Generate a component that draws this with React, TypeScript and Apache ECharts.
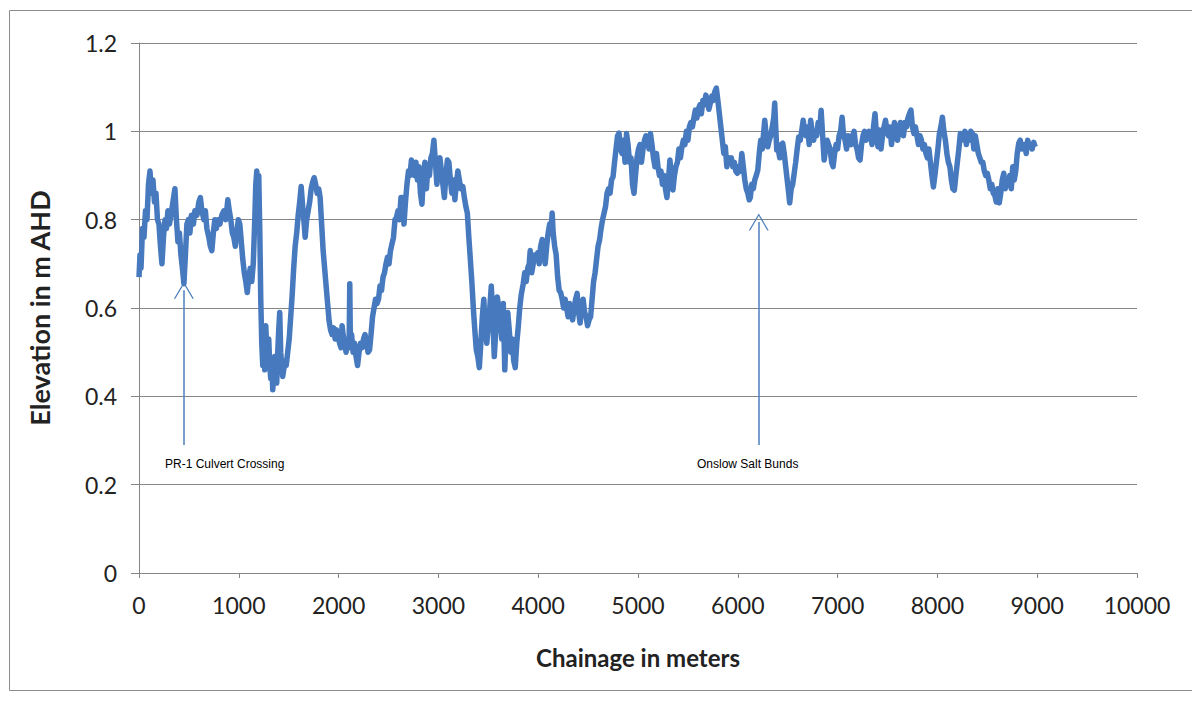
import React, { useEffect, useRef } from "react";
import * as echarts from "echarts";

// [chainage (m), elevation (m AHD)]
const section1: [number, number][] = [
  [0,0.67],[10,0.72],[20,0.69],[35,0.78],[50,0.76],[65,0.82],[80,0.80],[95,0.88],[110,0.91],[125,0.86],
  [140,0.89],[155,0.84],[170,0.86],[185,0.80],[200,0.79],[215,0.74],[230,0.70],[245,0.76],[260,0.80],[275,0.78],
  [290,0.82],[305,0.79],[320,0.81],[340,0.84],[360,0.87],[375,0.80],[390,0.75],[405,0.77],[420,0.72],[435,0.69],
  [450,0.655],[465,0.72],[480,0.79],[495,0.80],[510,0.77],[525,0.81],[545,0.79],[560,0.82],[580,0.81],[600,0.84],
  [615,0.85],[630,0.82],[650,0.80],[665,0.82],[680,0.78],[700,0.76],[715,0.74],[730,0.73],[745,0.77],[760,0.80],
  [775,0.78],[790,0.80],[810,0.79],[830,0.81],[850,0.82],[870,0.80],[890,0.845],[905,0.82],[920,0.80],[935,0.77],
  [950,0.76],[965,0.74],[980,0.77],[995,0.80],[1010,0.79],[1025,0.75],[1040,0.71],[1055,0.68],[1070,0.66],[1085,0.635],
  [1100,0.67],[1115,0.69],[1130,0.66],[1145,0.70],[1160,0.80],[1170,0.88],[1180,0.91],[1190,0.87],[1200,0.90],[1210,0.78],
  [1220,0.62],[1230,0.52],[1240,0.47],[1250,0.50],[1260,0.46],[1270,0.56],[1280,0.51],[1290,0.48],[1300,0.53],[1310,0.47],
  [1320,0.44],[1330,0.48],[1340,0.415],[1350,0.45],[1360,0.49],[1370,0.46],[1380,0.43],[1390,0.50],[1400,0.55],[1410,0.59],
  [1420,0.50],[1430,0.47],[1440,0.445],[1450,0.46],[1460,0.48],[1475,0.47],[1490,0.50],[1505,0.53],[1520,0.58],[1535,0.63],
  [1550,0.69],[1565,0.74],[1580,0.77],[1595,0.81],[1610,0.84],[1625,0.875],[1640,0.83],[1655,0.79],[1665,0.76],[1680,0.80],
  [1695,0.82],[1710,0.84],[1725,0.87],[1740,0.885],[1755,0.895],[1770,0.88],[1785,0.86],[1800,0.87],[1815,0.85],[1830,0.79],
  [1845,0.73],[1860,0.69],[1875,0.65],[1890,0.61],[1905,0.57],[1920,0.55],[1935,0.54],[1950,0.555],[1965,0.53],[1980,0.55],
  [1995,0.54],[2010,0.52],[2025,0.51],[2035,0.56],[2045,0.54],[2060,0.52],[2075,0.50],[2090,0.53],[2105,0.51],[2112,0.655],
  [2118,0.52],[2130,0.54],[2145,0.50],[2160,0.52],[2175,0.49],[2190,0.47],[2205,0.50],[2220,0.52],[2235,0.51],[2250,0.53],
  [2265,0.54],[2280,0.52],[2295,0.50],[2310,0.505],[2325,0.54],[2340,0.58],[2355,0.60],[2370,0.62],[2385,0.61],[2400,0.62],
  [2415,0.65],[2430,0.64],[2445,0.67],[2460,0.68],[2475,0.70],[2490,0.715],[2505,0.70],[2520,0.73],[2535,0.745],[2550,0.76],
  [2565,0.80],[2580,0.805],[2595,0.82],[2610,0.80],[2625,0.85],[2640,0.85],[2655,0.79],[2670,0.84],[2685,0.88],[2700,0.91],
  [2715,0.90],[2730,0.935],[2745,0.92],[2760,0.90],[2775,0.93],[2790,0.89],[2805,0.92],[2820,0.86],[2835,0.835],[2850,0.90],
  [2865,0.93],[2880,0.87],[2895,0.92],[2910,0.90],[2925,0.94],[2940,0.95],[2955,0.98],[2970,0.93],[2985,0.88],[3000,0.93],
];

const section2: [number, number][] = [
  [3015,0.94],[3030,0.91],[3045,0.88],[3060,0.85],[3075,0.90],[3090,0.935],[3105,0.93],[3120,0.89],[3135,0.86],[3150,0.89],
  [3165,0.845],[3180,0.88],[3195,0.91],[3210,0.89],[3225,0.87],[3245,0.875],[3260,0.85],[3275,0.83],[3290,0.815],[3305,0.76],
  [3320,0.71],[3335,0.66],[3350,0.60],[3365,0.55],[3380,0.505],[3395,0.49],[3410,0.465],[3425,0.52],[3440,0.58],[3455,0.62],
  [3470,0.55],[3485,0.52],[3500,0.56],[3515,0.60],[3530,0.65],[3545,0.58],[3560,0.49],[3575,0.55],[3590,0.625],[3605,0.60],
  [3620,0.57],[3635,0.53],[3650,0.61],[3665,0.46],[3680,0.55],[3695,0.59],[3710,0.55],[3725,0.50],[3740,0.53],[3755,0.48],
  [3770,0.465],[3785,0.52],[3800,0.557],[3815,0.60],[3830,0.63],[3850,0.655],[3865,0.68],[3880,0.66],[3895,0.69],[3910,0.70],
  [3920,0.73],[3935,0.68],[3950,0.70],[3965,0.72],[3980,0.71],[3995,0.725],[4010,0.70],[4025,0.74],[4040,0.755],[4055,0.73],
  [4070,0.70],[4085,0.74],[4100,0.77],[4115,0.79],[4130,0.78],[4140,0.815],[4150,0.77],[4165,0.74],[4180,0.72],[4195,0.67],
  [4210,0.64],[4225,0.635],[4240,0.62],[4255,0.60],[4270,0.62],[4285,0.60],[4300,0.58],[4315,0.61],[4330,0.59],[4345,0.573],
  [4360,0.60],[4375,0.62],[4390,0.633],[4405,0.59],[4420,0.566],[4435,0.60],[4450,0.62],[4465,0.59],[4480,0.58],[4495,0.56],
  [4510,0.573],[4525,0.58],[4540,0.62],[4555,0.66],[4570,0.68],[4585,0.71],[4600,0.74],[4615,0.754],[4630,0.78],[4645,0.80],
  [4660,0.815],[4675,0.83],[4690,0.86],[4705,0.87],[4720,0.86],[4735,0.89],[4750,0.897],[4765,0.93],[4780,0.96],[4795,0.99],
  [4810,0.996],[4825,0.96],[4840,0.95],[4855,0.98],[4870,0.93],[4885,0.995],[4900,0.97],[4915,0.93],[4930,0.94],[4945,0.88],
  [4960,0.86],[4975,0.90],[4990,0.94],[5005,0.96],[5020,0.97],[5035,0.93],[5050,0.96],[5065,0.98],[5080,0.99],[5095,0.987],
  [5110,0.96],[5125,0.995],[5140,0.97],[5155,0.94],[5170,0.92],[5185,0.95],[5200,0.92],[5215,0.90],[5230,0.91],[5245,0.88],
  [5260,0.90],[5275,0.87],[5290,0.85],[5305,0.89],[5320,0.935],[5335,0.90],[5350,0.867],[5365,0.90],[5380,0.92],[5395,0.93],
  [5410,0.96],[5425,0.94],[5440,0.965],[5455,0.98],[5470,0.97],[5485,1.00],[5500,0.98],[5515,1.01],[5530,1.02],[5545,1.01],
  [5560,1.03],[5575,1.048],[5590,1.03],[5605,1.05],[5620,1.06],[5635,1.04],[5650,1.07],[5665,1.06],[5680,1.082],[5695,1.07],
  [5710,1.05],[5725,1.064],[5740,1.08],[5755,1.07],[5770,1.09],[5785,1.098],[5800,1.07],[5815,1.04],[5830,1.01],[5845,0.98],
  [5860,0.95],[5875,0.965],[5890,0.92],[5905,0.94],[5920,0.93],[5935,0.94],[5950,0.92],[5965,0.93],[5980,0.91],[5995,0.905],
];

const section3: [number, number][] = [
  [6010,0.92],[6025,0.91],[6040,0.95],[6055,0.92],[6070,0.89],[6085,0.87],[6100,0.86],[6115,0.845],[6125,0.85],[6140,0.88],
  [6155,0.87],[6170,0.89],[6185,0.90],[6200,0.912],[6215,0.95],[6230,0.98],[6245,0.96],[6260,1.00],[6270,1.025],[6285,0.99],
  [6300,0.965],[6315,0.98],[6330,0.99],[6345,1.01],[6360,1.03],[6370,1.064],[6380,1.01],[6390,0.958],[6405,0.96],[6420,0.94],
  [6435,0.97],[6450,0.973],[6465,0.95],[6480,0.92],[6495,0.89],[6510,0.86],[6520,0.838],[6535,0.87],[6550,0.88],[6565,0.905],
  [6580,0.93],[6595,0.96],[6610,0.987],[6625,0.98],[6640,1.00],[6655,1.025],[6670,1.00],[6685,0.99],[6700,1.01],[6715,0.97],
  [6730,1.025],[6745,1.00],[6760,0.98],[6775,1.00],[6790,0.99],[6805,1.02],[6820,1.00],[6835,1.048],[6850,0.99],[6865,0.935],
  [6880,0.96],[6895,0.98],[6910,0.97],[6925,0.96],[6940,0.93],[6955,0.92],[6970,0.95],[6985,0.97],[7000,0.96],[7015,0.99],
  [7030,1.00],[7045,1.032],[7060,0.99],[7075,0.98],[7090,0.96],[7105,0.99],[7120,0.98],[7135,0.97],[7150,0.99],[7165,1.00],
  [7180,0.97],[7195,0.96],[7210,0.94],[7225,0.935],[7240,0.97],[7255,0.99],[7270,1.00],[7285,0.98],[7300,0.99],[7315,1.00],
  [7330,0.99],[7345,0.97],[7360,1.01],[7375,1.04],[7390,0.99],[7405,0.965],[7420,1.003],[7435,0.96],[7450,0.99],[7465,1.01],
  [7480,1.025],[7495,1.00],[7510,0.99],[7525,1.01],[7540,0.97],[7555,1.00],[7570,1.02],[7585,1.00],[7600,0.98],[7615,1.00],
  [7630,1.02],[7645,1.01],[7660,0.99],[7675,1.02],[7690,1.01],[7705,1.03],[7720,1.04],[7735,1.048],[7750,1.01],[7765,0.995],
  [7780,1.01],[7795,0.99],[7810,0.97],[7825,0.99],[7840,0.98],[7855,0.96],[7870,0.97],[7885,0.95],[7900,0.94],[7915,0.96],
  [7930,0.93],[7945,0.90],[7960,0.874],[7975,0.90],[7990,0.93],[8005,0.96],[8020,0.995],[8035,1.01],[8050,1.032],[8065,1.00],
  [8080,0.98],[8095,0.95],[8110,0.93],[8125,0.92],[8140,0.89],[8155,0.87],[8170,0.867],[8185,0.90],[8200,0.93],[8215,0.96],
  [8230,0.995],[8245,0.98],[8260,0.99],[8275,1.00],[8290,0.97],[8305,0.995],[8320,0.98],[8335,1.00],[8350,0.995],[8365,0.96],
  [8380,0.99],[8395,0.97],[8410,0.95],[8425,0.94],[8440,0.93],[8455,0.93],[8470,0.91],[8485,0.90],[8500,0.905],[8515,0.89],
  [8530,0.87],[8545,0.88],[8560,0.86],[8575,0.855],[8590,0.84],[8605,0.87],[8620,0.838],[8635,0.86],[8650,0.89],[8665,0.905],
  [8680,0.87],[8695,0.89],[8710,0.88],[8725,0.90],[8740,0.87],[8755,0.92],[8770,0.89],[8785,0.91],[8800,0.95],[8815,0.973],
  [8830,0.98],[8845,0.96],[8860,0.965],[8875,0.97],[8890,0.95],[8905,0.98],[8920,0.965],[8935,0.97],[8950,0.96],[8965,0.975],
  [8980,0.965],
];

const profile = [...section1, ...section2, ...section3];

// annotation arrows: [chainage, bottom elevation, tip elevation]
const arrowPR1: [number, number, number] = [450, 0.29, 0.64];
const arrowOnslow: [number, number, number] = [6210, 0.29, 0.795];
const annotationTexts = ["PR-1 Culvert Crossing", "Onslow Salt Bunds"];

const xTicks = { min: 0, max: 10000, interval: 1000 };
const yTicks = { min: 0, max: 1.2, interval: 0.2 };

const ARROW = "path://M0,17 L10,0 L20,17 L18.6,17 L10,2.4 L1.4,17 Z";

export default function App() {
  const ref = useRef<HTMLDivElement>(null);
  useEffect(() => {
    if (!ref.current) return;
    const chart = echarts.init(ref.current, null, { renderer: "svg" });
    const font = "Lato, 'Open Sans', sans-serif";
    const gray = "#868686";
    const mkArrow = (a: [number, number, number]) => [
      { coord: [a[0], a[1]], symbol: "none" },
      { coord: [a[0], a[2]], symbol: ARROW, symbolSize: [20, 17] },
    ];
    chart.setOption({
      animation: false,
      backgroundColor: "#ffffff",
      grid: { left: 139, right: 55, top: 43, bottom: 131, containLabel: false },
      xAxis: {
        type: "value",
        min: xTicks.min,
        max: xTicks.max,
        interval: xTicks.interval,
        name: "Chainage in meters",
        nameLocation: "middle",
        nameGap: 72,
        nameTextStyle: { fontFamily: font, fontSize: 24, fontWeight: "bold", color: "#222" },
        axisLine: { show: true, lineStyle: { color: gray, width: 1 } },
        axisTick: { show: true, length: 5, lineStyle: { color: gray } },
        axisLabel: {
          fontFamily: font,
          fontSize: 23,
          color: "#222",
          margin: 20,
          formatter: (v: number) => String(Math.round(v)),
        },
        splitLine: { show: false },
      },
      yAxis: {
        type: "value",
        min: yTicks.min,
        max: yTicks.max,
        interval: yTicks.interval,
        name: "Elevation in m AHD",
        nameLocation: "middle",
        nameGap: 86,
        nameRotate: 90,
        nameTextStyle: { fontFamily: font, fontSize: 27, fontWeight: "bold", color: "#222" },
        axisLine: { show: true, lineStyle: { color: gray, width: 1 } },
        axisTick: { show: true, length: 8, lineStyle: { color: gray } },
        axisLabel: {
          fontFamily: font,
          fontSize: 23,
          color: "#222",
          margin: 22,
          formatter: (v: number) => (Math.round(v * 10) / 10).toString(),
        },
        splitLine: { show: true, lineStyle: { color: gray, width: 1 } },
      },
      series: [
        {
          type: "line",
          data: profile,
          showSymbol: false,
          symbol: "none",
          lineStyle: { color: "#4679bd", width: 5.5, join: "round" },
          silent: true,
          markLine: {
            silent: true,
            symbol: ["none", "none"],
            lineStyle: { color: "#4a7ebb", width: 1.5, type: "solid" },
            itemStyle: { color: "#4a7ebb" },
            label: { show: false },
            data: [mkArrow(arrowPR1), mkArrow(arrowOnslow)],
          },
        },
      ],
      graphic: [
        {
          type: "rect",
          shape: { x: 9.5, y: 10.5, width: 1190, height: 680 },
          style: { fill: "none", stroke: "#8c8c8c", lineWidth: 1 },
          silent: true,
        },
        {
          type: "text",
          x: 165,
          y: 458,
          style: { text: annotationTexts[0], font: "12px 'Liberation Sans', Arial, sans-serif", fill: "#000" },
        },
        {
          type: "text",
          x: 697,
          y: 458,
          style: { text: annotationTexts[1], font: "12px 'Liberation Sans', Arial, sans-serif", fill: "#000" },
        },
      ],
    });
    return () => chart.dispose();
  }, []);
  return (
    <div
      ref={ref}
      style={{ position: "fixed", left: 0, top: 0, width: 1192, height: 704, background: "#fff" }}
    />
  );
}
